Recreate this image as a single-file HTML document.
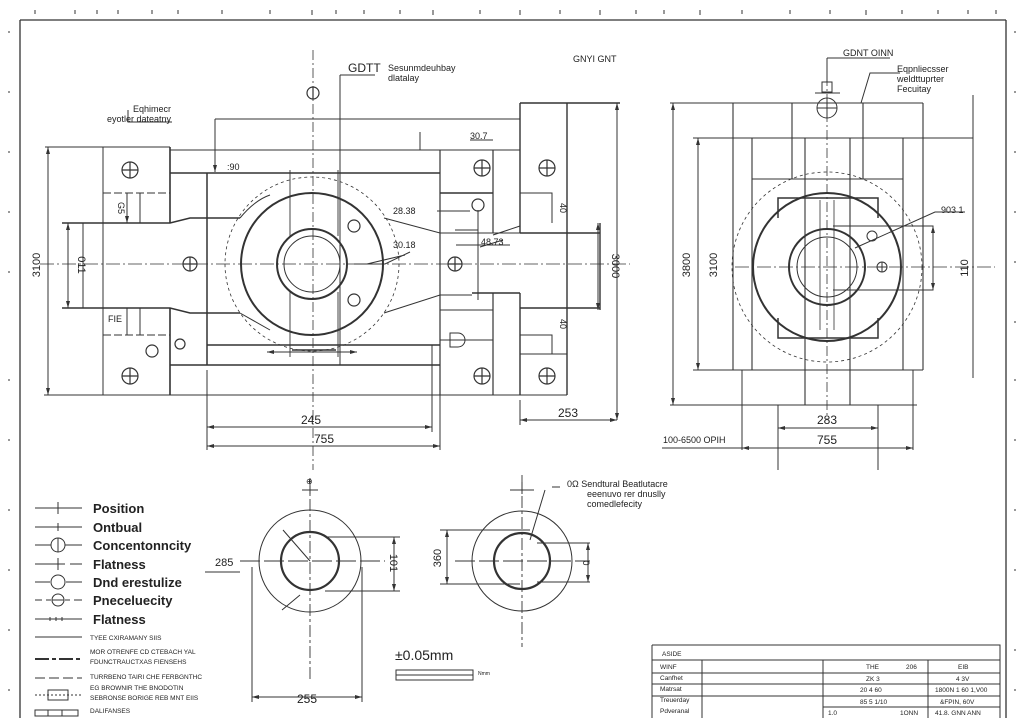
<!DOCTYPE html>
<html><head><meta charset="utf-8"><style>
html,body{margin:0;padding:0;background:#fff;}
svg{display:block;}
text{font-family:"Liberation Sans",sans-serif;fill:#222;}
</style></head><body>
<svg width="1024" height="718" viewBox="0 0 1024 718" xmlns="http://www.w3.org/2000/svg">
<rect width="1024" height="718" fill="#fff"/>
<g stroke="#333" stroke-width="1" fill="none">
<path d="M20 20 H1006 M20 20 V718 M1006 20 V718" stroke-width="1.3"/>
<path d="M35 10v4M75 10v4M97 10v4M118 10v4M152 10v4M178 10v4M222 10v4M270 10v4M312 10v5M336 10v4M364 10v4M400 10v4M433 10v5M480 10v4M520 10v5M560 10v4M600 10v5M636 10v4M664 10v4M700 10v5M742 10v4M790 10v4M830 10v4M866 10v5M902 10v4M938 10v4M968 10v4M996 10v4"/>
<path d="M8 32h2M8 92h2M8 152h2M8 212h2M8 272h2M8 380h2M8 440h2M8 510h2M8 570h2M8 630h2M8 690h2M1014 32h2M1014 92h2M1014 152h2M1014 212h2M1014 262h2M1014 322h2M1014 380h2M1014 440h2M1014 510h2M1014 570h2M1014 650h2M1014 690h2"/>

<path d="M45 147H170 M103 147V395 M170 150H520 M44 395H567"/>
<path d="M170 147V223 M170 308V395" stroke-width="1.6"/>
<path d="M103 193H170 M103 335H170" stroke-dasharray="8 3"/>
<path d="M127 193V223 M140 193V223 M127 308V335 M140 308V335"/>
<path d="M62 223H170 L190 218 H240 M62 308H170 L190 313 H240" stroke-width="1.6"/>
<path d="M83 223V308"/>
<path d="M170 173H440 M207 173V365 M207 345H440 M170 365H440" stroke-width="1.5"/>
<path d="M440 150V395 M493 150V233 M493 293V395" stroke-width="1.2"/>
<path d="M240 218 Q255 200 270 195 M384 218 L440 233 H520 M240 313 L270 330 M384 313 L440 295 H472"/>
<path d="M472 293H520 M440 193H493 M520 103H620 M520 103V233 M520 293V395 M567 103V395 M520 233H600 M520 308H600 M600 223V310" stroke-width="1.4"/>
<path d="M520 193H552V223 M520 335H552V354 M520 354H567"/>
<path d="M440 310H493 M440 340H493"/>
<circle cx="312" cy="264" r="71" stroke-width="2"/>
<circle cx="312" cy="264" r="87" stroke-dasharray="3 3" stroke-width="0.8"/>
<circle cx="312" cy="264" r="35" stroke-width="2"/>
<circle cx="312" cy="264" r="28"/>
<path d="M290 170V236 M338 170V236 M290 292V357 M338 292V357" stroke-width="0.9"/>
<path d="M292 350H336" stroke-width="1.5"/>
<path d="M40 264H630" stroke-dasharray="14 3 2 3" stroke-width="0.8"/>
<path d="M313 50V470" stroke-dasharray="10 3 2 3" stroke-width="0.8"/>
<path d="M340 75V365 M340 75H375"/>
<g stroke-width="1.2">
<circle cx="130" cy="170" r="8"/><path d="M122 170h16M130 162v16"/>
<circle cx="482" cy="168" r="8"/><path d="M474 168h16M482 160v16"/>
<circle cx="547" cy="168" r="8"/><path d="M539 168h16M547 160v16"/>
<circle cx="190" cy="264" r="7"/><path d="M183 264h14M190 257v14"/>
<circle cx="455" cy="264" r="7"/><path d="M448 264h14M455 257v14"/>
<circle cx="130" cy="376" r="8"/><path d="M122 376h16M130 368v16"/>
<circle cx="482" cy="376" r="8"/><path d="M474 376h16M482 368v16"/>
<circle cx="547" cy="376" r="8"/><path d="M539 376h16M547 368v16"/>
<circle cx="313" cy="93" r="6"/><path d="M313 87v12"/>
<circle cx="354" cy="226" r="6"/><circle cx="354" cy="300" r="6"/>
<circle cx="478" cy="205" r="6"/><circle cx="152" cy="351" r="6"/><circle cx="180" cy="344" r="5"/>
</g>
<path d="M450 333h8a7 7 0 0 1 0 14h-8z"/>
<path d="M48 147V395 M68 223V308 M215 119H520 M215 119V172 M127 193V223 M617 103V420 M598 223V310 M520 400V425 M520 420H617 M207 370V450 M432 345V432 M440 370V450 M207 427H432 M207 446H440 M267 352H357"/>
<path d="M354 264H385L410 252 M478 210V300 M405 255L367 264 M456 245H510 M493 235L520 226"/>
<path d="M128 110V122H172 M420 132V150H440 M470 140H493 M437 211H470 M478 230H455 M480 247L503 240"/>
<path d="M670 103H923 M693 138H973 M693 370H923 M670 405H917 M733 103V370 M752 138V370 M792 103V179 M805 138V405 M850 138V405 M863 103V179 M903 138V370 M923 103V370 M752 179H903" stroke-width="1.1"/>
<path d="M805 370V405 M850 370V405" stroke-dasharray="5 3"/>
<path d="M742 370V450 M913 370V450 M778 405V470 M878 405V470 M673 103V405 M698 138V370 M973 95V378 M778 428H878 M742 448H913 M662 448H742"/>
<circle cx="827" cy="267" r="74" stroke-width="2"/>
<circle cx="827" cy="267" r="95" stroke-dasharray="3 3" stroke-width="0.8"/>
<circle cx="827" cy="267" r="38" stroke-width="2"/>
<circle cx="827" cy="267" r="30"/>
<path d="M778 218V198H878V218 M778 318V338H878V318" stroke-width="1.5"/>
<path d="M820 200V330 M834 200V330" stroke-width="0.8"/>
<path d="M735 267H995" stroke-dasharray="14 3 2 3" stroke-width="0.8"/>
<path d="M827 58V420" stroke-dasharray="10 3 2 3" stroke-width="0.8"/>
<circle cx="827" cy="108" r="10"/><path d="M817 108h20M827 98v20"/>
<path d="M822 82h10v10h-10z M815 93H840 M827 58V82 M827 58H890 M861 103L870 73H900"/>
<circle cx="872" cy="236" r="5"/><circle cx="882" cy="267" r="5"/><path d="M877 267h10M882 262v10"/>
<path d="M855 248L935 212H965 M833 226H933V290H833"/>
<circle cx="310" cy="561" r="51"/>
<circle cx="310" cy="561" r="29" stroke-width="2.2"/>
<path d="M310 478V680" stroke-dasharray="12 3 3 3" stroke-width="0.9"/>
<path d="M240 561H385" stroke-dasharray="20 4" stroke-width="1"/>
<path d="M302 490H318 M310 486V494"/>
<path d="M310 561L283 530 M300 595L282 610 M325 537H400 M325 591H400 M394 537V591 M252 567V702 M362 567V702 M252 697H362 M205 572H240"/>
<circle cx="522" cy="561" r="50"/>
<circle cx="522" cy="561" r="28" stroke-width="2.2"/>
<path d="M522 475V647" stroke-dasharray="12 3 3 3" stroke-width="0.9"/>
<path d="M455 561H590" stroke-dasharray="20 4" stroke-width="1"/>
<path d="M510 490H534 M522 482V494"/>
<path d="M440 530H530 M440 584H520 M447 530V584 M537 543H590 M537 582H590 M588 543V582 M545 490L530 540 M552 487H560"/>
<path d="M396 670H473V680H396Z M396 675H473"/>
<path d="M35 508H82M58 502v12 M35 527H82M58 523v8 M35 545H51M65 545H82 M35 564H65M70 564H82M58 558v12 M35 582H50M66 582H82 M35 600H42M46 600H51M65 600H70M74 600H82 M35 619H82M50 617v4M56 617v4M62 617v4 M35 637H82"/>
<circle cx="58" cy="545" r="7"/><path d="M58 538v14"/>
<circle cx="58" cy="582" r="7"/><circle cx="58" cy="600" r="6"/><path d="M52 600h12"/>
<path d="M35 659H82" stroke-width="2" stroke-dasharray="14 3 4 3"/>
<path d="M35 678H82" stroke-dasharray="10 4"/>
<path d="M35 695H82" stroke-dasharray="2 2"/><rect x="48" y="690" width="20" height="10"/>
<path d="M35 710H78V716H35Z M48 710V716 M62 710V716"/>
<path d="M652 645H1000V718 M652 645V718 M652 660H1000 M652 673H1000 M652 684H1000 M652 696H1000 M823 707H1000 M702 660V718 M823 660V718 M928 660V718"/>
</g>
<g fill="#333">
<path d="M48 147l-2 7h4z M48 395l-2-7h4z M68 223l-2 7h4z M68 308l-2-7h4z M215 172l-2-7h4z M617 103l-2 7h4z M617 420l-2-7h4z M598 223l-2 7h4z M598 310l-2-7h4z M127 223l-2-7h4z"/>
<path d="M520 420l7-2v4z M617 420l-7-2v4z M207 427l7-2v4z M432 427l-7-2v4z M207 446l7-2v4z M440 446l-7-2v4z M267 352l7-2v4z M357 352l-7-2v4z"/>
<path d="M673 103l-2 7h4z M673 405l-2-7h4z M698 138l-2 7h4z M698 370l-2-7h4z M778 428l7-2v4z M878 428l-7-2v4z M742 448l7-2v4z M913 448l-7-2v4z M933 226l-2 7h4z M933 290l-2-7h4z"/>
<path d="M394 537l-2 7h4z M394 591l-2-7h4z M252 697l7-2v4z M362 697l-7-2v4z M447 530l-2 7h4z M447 584l-2-7h4z M588 543l-2 7h4z M588 582l-2-7h4z"/>
</g>
<g font-size="9">
<text x="348" y="72" font-size="12">GDTT</text>
<text x="388" y="71">Sesunmdeuhbay</text><text x="388" y="81">dlatalay</text>
<text x="573" y="62">GNYI  GNT</text>
<text x="133" y="112">Eqhimecr</text><text x="107" y="122">eyotler dateatny</text>
<text x="227" y="170">:90</text>
<text x="470" y="139">30.7</text>
<text x="393" y="214">28.38</text>
<text x="393" y="248">30.18</text>
<text x="481" y="245">48.73</text>
<text x="108" y="322">FIE</text>
<text x="558" y="417" font-size="12">253</text>
<text x="311" y="424" font-size="12" text-anchor="middle">245</text>
<text x="324" y="443" font-size="12" text-anchor="middle">755</text>
<text x="40" y="265" font-size="11" transform="rotate(-90 40 265)" text-anchor="middle">3100</text>
<text x="78" y="265" font-size="11" transform="rotate(90 78 265)" text-anchor="middle">011</text>
<text x="612" y="266" font-size="11" transform="rotate(90 612 266)" text-anchor="middle">3000</text>
<text x="118" y="208" transform="rotate(90 118 208)" text-anchor="middle">G5</text>
<text x="560" y="208" transform="rotate(90 560 208)" text-anchor="middle">40</text>
<text x="560" y="324" transform="rotate(90 560 324)" text-anchor="middle">40</text>
<text x="843" y="56">GDNT OINN</text>
<text x="897" y="72">Eqpnliecsser</text><text x="897" y="82">weldttuprter</text><text x="897" y="92">Fecuitay</text>
<text x="941" y="213">903 1</text>
<text x="690" y="265" font-size="11" transform="rotate(-90 690 265)" text-anchor="middle">3800</text>
<text x="717" y="265" font-size="11" transform="rotate(-90 717 265)" text-anchor="middle">3100</text>
<text x="968" y="268" font-size="11" transform="rotate(-90 968 268)" text-anchor="middle">110</text>
<text x="827" y="424" font-size="12" text-anchor="middle">283</text>
<text x="827" y="444" font-size="12" text-anchor="middle">755</text>
<text x="663" y="443">100-6500 OPIH</text>
<text x="215" y="566" font-size="11">285</text>
<text x="307" y="703" font-size="12" text-anchor="middle">255</text>
<text x="390" y="563" font-size="11" transform="rotate(90 390 563)" text-anchor="middle">101</text>
<text x="441" y="558" font-size="11" transform="rotate(-90 441 558)" text-anchor="middle">360</text>
<text x="583" y="563" transform="rotate(90 583 563)" text-anchor="middle">0</text>
<text x="306" y="484" font-size="8">⊕</text>
<text x="567" y="487">0Ω  Sendtural Beatlutacre</text>
<text x="587" y="497">eeenuvo rer dnuslly</text>
<text x="587" y="507">comedlefecity</text>
<text x="395" y="660" font-size="14">±0.05mm</text>
<text x="478" y="675" font-size="5">Nmm</text>
</g>
<g font-size="13" font-weight="bold">
<text x="93" y="513">Position</text>
<text x="93" y="532">Ontbual</text>
<text x="93" y="550">Concentonncity</text>
<text x="93" y="569">Flatness</text>
<text x="93" y="587">Dnd erestulize</text>
<text x="93" y="605">Pneceluecity</text>
<text x="93" y="624">Flatness</text>
</g>
<g font-size="6.5">
<text x="90" y="640">TYEE CXIRAMANY SIIS</text>
<text x="90" y="654">MOR OTRENFE CD CTEBACH YAL</text>
<text x="90" y="664">FDUNCTRAUCTXAS FIENSEHS</text>
<text x="90" y="679">TURRBENO TAIRI CHE FERBGNTHC</text>
<text x="90" y="690">EG BROWNIR THE BNODOTIN</text>
<text x="90" y="700">SEBRONSE BORIGE REB MNT EIIS</text>
<text x="90" y="713">DALIFANSES</text>
<text x="662" y="656">ASIDE</text>
<text x="660" y="669">WINF</text><text x="660" y="680">Canfhet</text><text x="660" y="691">Matrsat</text>
<text x="660" y="702">Treuerday</text><text x="660" y="713">Pdveranal</text>
<text x="866" y="669">THE</text><text x="906" y="669">206</text><text x="958" y="669">EIB</text>
<text x="866" y="681">ZK 3</text><text x="956" y="681">4 3V</text>
<text x="860" y="692">20 4 60</text><text x="935" y="692">1800N 1 60 1,V00</text>
<text x="860" y="704">85 5 1/10</text><text x="940" y="704">&amp;FPIN, 60V</text>
<text x="828" y="715">1.0</text><text x="900" y="715">1ONN</text><text x="935" y="715">41.8. GNN ANN</text>
</g>
</svg>
</body></html>
